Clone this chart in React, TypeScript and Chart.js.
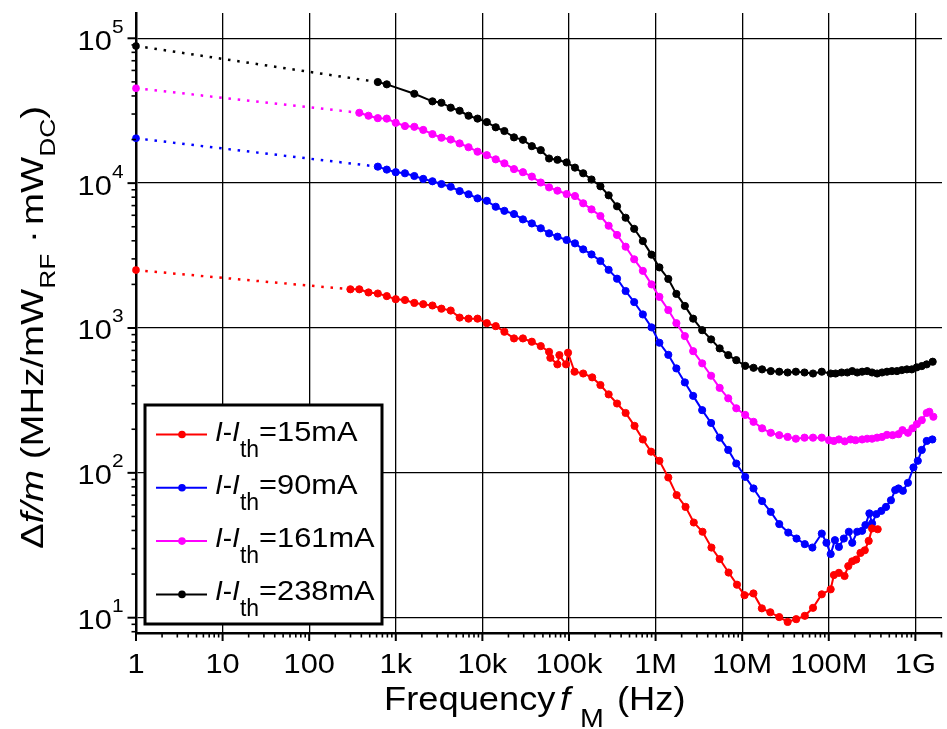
import React, { useEffect, useRef } from "react";
import { Chart, registerables } from "chart.js";

Chart.register(...registerables);

// ---------------- data ----------------
const seriesLabels = ["15mA", "90mA", "161mA", "238mA"];
const seriesColors = ["#ff0000", "#0000ff", "#ff00ff", "#000000"];

// value of the dotted extrapolation at 1 Hz
const extrapFreq = 1;
const extrapStart = [2510, 20400, 45200, 88500];

const xGridValues = [1, 10, 100, 1e3, 1e4, 1e5, 1e6, 1e7, 1e8, 1e9];
const xTickLabels = ["1", "10", "100", "1k", "10k", "100k", "1M", "10M", "100M", "1G"];
const yGridValues = [10, 100, 1e3, 1e4, 1e5];
const yTickExponents = ["1", "2", "3", "4", "5"];
const minorMultipliers = [2, 3, 4, 5, 6, 7, 8, 9];

const redFreq = [299, 379, 484, 620, 787, 998, 1276, 1637, 2075, 2650, 3365, 4305, 5460, 6920, 8790, 11250, 14260, 17950, 23170, 29380, 37240, 47210, 58880, 60950, 73450, 77450, 92470, 97500, 115900, 145900, 185400, 230700, 287100, 358900, 450800, 571500, 712800, 887200, 1.107e6, 1.403e6, 1.75e6, 2.218e6, 2.761e6, 3.483e6, 4.416e6, 5.495e6, 6.966e6, 8.71e6, 1.064e7, 1.349e7, 1.687e7, 2.113e7, 2.679e7, 3.35e7, 4.207e7, 5.284e7, 6.577e7, 8.299e7, 1.052e8, 1.146e8, 1.309e8, 1.521e8, 1.679e8, 1.866e8, 2.075e8, 2.323e8, 2.606e8, 2.891e8, 3.162e8, 3.673e8];
const redVal = [1850, 1850, 1760, 1730, 1660, 1580, 1560, 1490, 1460, 1430, 1360, 1320, 1180, 1160, 1160, 1080, 1030, 942, 847, 847, 804, 750, 685, 622, 561, 650, 561, 675, 499, 485, 456, 404, 348, 301, 259, 211, 170, 140, 121, 92.9, 70.2, 58.2, 45.4, 39.2, 30.5, 25.4, 20.5, 16.9, 14.3, 14.7, 11.6, 10.9, 10.1, 9.35, 9.77, 10.3, 11.7, 14.5, 15.7, 19.7, 20.4, 19.4, 22.7, 24.5, 25.2, 28.0, 29.2, 33.9, 41.3, 40.8];

const blueFreq = [620, 787, 998, 1276, 1637, 2075, 2650, 3365, 4305, 5460, 6920, 8790, 11250, 14260, 17950, 23170, 29380, 37240, 47210, 58880, 73620, 93970, 117200, 145900, 182000, 230700, 287100, 358900, 450800, 566200, 712800, 897500, 1.107e6, 1.403e6, 1.738e6, 2.178e6, 2.716e6, 3.451e6, 4.375e6, 5.495e6, 6.902e6, 8.551e6, 1.084e7, 1.352e7, 1.698e7, 2.138e7, 2.679e7, 3.404e7, 4.246e7, 5.284e7, 6.471e7, 8.299e7, 9.397e7, 1.052e8, 1.178e8, 1.309e8, 1.493e8, 1.706e8, 1.866e8, 2.128e8, 2.427e8, 2.649e8, 2.944e8, 3.162e8, 3.548e8, 4.046e8, 4.581e8, 5.224e8, 5.848e8, 6.383e8, 7.178e8, 8.204e8, 9.506e8, 1.067e9, 1.186e9, 1.352e9, 1.57e9];
const blueVal = [13000, 12400, 11900, 11700, 11200, 10700, 10300, 9860, 9440, 8810, 8380, 7850, 7550, 6870, 6440, 6120, 5620, 5270, 4880, 4500, 4270, 4050, 3840, 3490, 3220, 2900, 2520, 2190, 1800, 1510, 1240, 1010, 791, 653, 526, 421, 340, 271, 221, 175, 144, 116, 93.8, 78.0, 63.8, 53.8, 44.3, 38.7, 35.2, 32.2, 30.5, 38.1, 32.9, 27.5, 34.3, 30.8, 35.2, 39.2, 32.9, 39.2, 39.8, 43.6, 52.5, 44.8, 51.9, 54.6, 58.2, 64.7, 76.0, 78.0, 75.2, 85.3, 109, 121, 144, 166, 170];

const magentaFreq = [379, 484, 620, 787, 998, 1276, 1637, 2075, 2650, 3365, 4305, 5460, 6920, 8790, 11250, 14260, 17950, 23170, 29380, 37240, 47210, 58880, 73620, 93970, 117200, 145900, 182000, 230700, 287100, 358900, 450800, 566200, 712800, 897500, 1.107e6, 1.403e6, 1.738e6, 2.178e6, 2.716e6, 3.451e6, 4.375e6, 5.495e6, 6.902e6, 8.551e6, 1.084e7, 1.352e7, 1.698e7, 2.138e7, 2.679e7, 3.35e7, 4.169e7, 5.248e7, 6.577e7, 8.299e7, 1.005e8, 1.146e8, 1.309e8, 1.531e8, 1.786e8, 2.037e8, 2.427e8, 2.773e8, 3.162e8, 3.614e8, 4.121e8, 4.699e8, 5.458e8, 6.383e8, 7.096e8, 8.204e8, 9.247e8, 1.04e9, 1.186e9, 1.352e9, 1.449e9, 1.614e9];
const magentaVal = [30600, 29200, 28100, 27900, 26100, 24800, 24500, 23300, 21800, 20600, 20000, 18800, 17700, 16500, 15600, 14600, 13700, 12500, 11900, 11100, 10100, 9350, 8870, 8410, 8150, 7260, 6590, 5930, 5080, 4390, 3640, 2980, 2480, 2000, 1640, 1330, 1080, 879, 692, 570, 468, 386, 327, 279, 251, 225, 203, 189, 182, 177, 172, 175, 175, 175, 168, 166, 170, 165, 170, 168, 170, 172, 172, 175, 177, 183, 182, 185, 197, 189, 203, 217, 231, 259, 264, 244];

const blackFreq = [620, 787, 1637, 2650, 3365, 4305, 5460, 6920, 8790, 11250, 14260, 17950, 23170, 29380, 37240, 47210, 58880, 73620, 93970, 117200, 145900, 182000, 230700, 287100, 358900, 450800, 566200, 712800, 897500, 1.107e6, 1.403e6, 1.738e6, 2.178e6, 2.716e6, 3.451e6, 4.375e6, 5.495e6, 6.902e6, 8.551e6, 1.084e7, 1.352e7, 1.698e7, 2.138e7, 2.679e7, 3.35e7, 4.169e7, 5.248e7, 6.577e7, 8.299e7, 1.052e8, 1.199e8, 1.406e8, 1.637e8, 1.866e8, 2.128e8, 2.427e8, 2.773e8, 3.162e8, 3.614e8, 4.121e8, 4.699e8, 5.358e8, 6.124e8, 6.982e8, 7.98e8, 9.099e8, 1.038e9, 1.186e9, 1.352e9, 1.585e9];
const blackVal = [49900, 48100, 41400, 36700, 35900, 33200, 31600, 29200, 27900, 26400, 24300, 22900, 20700, 19900, 18000, 16900, 14800, 14500, 13900, 12800, 11700, 10600, 9510, 8240, 6920, 5770, 4840, 3980, 3210, 2620, 2180, 1720, 1420, 1160, 966, 834, 723, 650, 600, 548, 531, 518, 504, 499, 493, 499, 493, 485, 499, 485, 485, 493, 493, 504, 493, 499, 504, 493, 485, 493, 499, 504, 504, 512, 518, 518, 535, 546, 561, 585];

// ---------------- drawing helpers ----------------
const FONT = '"Liberation Sans", Arial, Helvetica, sans-serif';
const SX = 1.1; // horizontal text stretch seen in the reference

function txt(ctx: CanvasRenderingContext2D, s: string, x: number, y: number, font: string, sx = SX, align = "left") {
  ctx.save();
  ctx.font = font;
  ctx.textAlign = "left";
  ctx.textBaseline = "alphabetic";
  const w = ctx.measureText(s).width * sx;
  let x0 = x;
  if (align === "center") x0 = x - w / 2;
  else if (align === "right") x0 = x - w;
  ctx.translate(x0, y);
  ctx.scale(sx, 1);
  ctx.fillText(s, 0, 0);
  ctx.restore();
  return w;
}

function measure(ctx: CanvasRenderingContext2D, s: string, font: string, sx = SX) {
  ctx.save();
  ctx.font = font;
  const w = ctx.measureText(s).width * sx;
  ctx.restore();
  return w;
}

const decorPlugin = {
  id: "decor",
  afterDraw(chart: any) {
    const ctx: CanvasRenderingContext2D = chart.ctx;
    const xs = chart.scales.x;
    const ys = chart.scales.y;
    const ca = chart.chartArea;
    ctx.save();
    ctx.strokeStyle = "#000";
    ctx.fillStyle = "#000";
    ctx.lineCap = "butt";

    // x ticks (major + minor)
    xGridValues.forEach((d) => {
      [1, ...minorMultipliers].forEach((m) => {
        const v = d * m;
        if (v < xs.min || v > xs.max) return;
        const px = xs.getPixelForValue(v);
        ctx.lineWidth = m === 1 ? 2 : 1.6;
        ctx.beginPath();
        ctx.moveTo(px, ca.bottom);
        ctx.lineTo(px, ca.bottom + (m === 1 ? 8 : 4.5));
        ctx.stroke();
      });
    });
    // y ticks
    [1, ...yGridValues].forEach((d) => {
      [1, ...minorMultipliers].forEach((m) => {
        const v = d * m;
        if (v < ys.min || v > ys.max) return;
        const py = ys.getPixelForValue(v);
        ctx.lineWidth = m === 1 ? 2 : 1.6;
        ctx.beginPath();
        ctx.moveTo(ca.left, py);
        ctx.lineTo(ca.left - (m === 1 ? 8.5 : 4.5), py);
        ctx.stroke();
      });
    });

    // x tick labels
    xGridValues.forEach((v, i) => {
      const px = xs.getPixelForValue(v);
      txt(ctx, xTickLabels[i], px, 673, `28px ${FONT}`, SX, "center");
    });
    // y tick labels 10^n
    yGridValues.forEach((v, i) => {
      const py = ys.getPixelForValue(v);
      const supFont = `19px ${FONT}`;
      const right = ca.left - 12.5;
      const supW = measure(ctx, yTickExponents[i], supFont);
      txt(ctx, yTickExponents[i], right - supW, py - 5.5, supFont);
      txt(ctx, "10", right - supW, py + 11.5, `28px ${FONT}`, SX, "right");
    });

    // x axis title
    txt(ctx, "Frequency", 384, 710, `33px ${FONT}`);
    txt(ctx, "f", 560, 710, `italic 33px ${FONT}`);
    txt(ctx, "M", 580, 727, `26px ${FONT}`);
    txt(ctx, "(Hz)", 617, 710, `33px ${FONT}`);

    // y axis title (rotated, flowing upward)
    const SY = 1.2;
    const yt = [
      { t: "\u0394", f: `32px ${FONT}`, sub: false, gap: 0 },
      { t: "f/m", f: `italic 32px ${FONT}`, sub: false, gap: 0 },
      { t: " (MHz/mW", f: `32px ${FONT}`, sub: false, gap: 0 },
      { t: "RF", f: `22px ${FONT}`, sub: true, gap: 0 },
      { t: " \u00B7", f: `32px ${FONT}`, sub: false, gap: 5 },
      { t: "mW", f: `32px ${FONT}`, sub: false, gap: 0 },
      { t: "DC", f: `22px ${FONT}`, sub: true, gap: 0 },
      { t: ")", f: `32px ${FONT}`, sub: false, gap: 0 },
    ];
    let yy = 549;
    yt.forEach((p) => {
      ctx.save();
      ctx.font = p.f;
      const w = ctx.measureText(p.t).width * SY;
      ctx.translate(p.sub ? 55 : 43, yy);
      ctx.rotate(-Math.PI / 2);
      ctx.scale(SY, 1);
      ctx.textAlign = "left";
      ctx.textBaseline = "alphabetic";
      ctx.fillText(p.t, 0, 0);
      ctx.restore();
      yy -= w + p.gap;
    });

    // legend
    const lx = 145, ly = 405, lw = 237, lh = 219;
    ctx.fillStyle = "#fff";
    ctx.fillRect(lx, ly, lw, lh);
    ctx.lineWidth = 3;
    ctx.strokeStyle = "#000";
    ctx.strokeRect(lx, ly, lw, lh);
    seriesLabels.forEach((lab, i) => {
      const y = ly + 29.5 + i * 53.3;
      const c = seriesColors[i];
      ctx.strokeStyle = c;
      ctx.lineWidth = 2;
      ctx.beginPath();
      ctx.moveTo(lx + 11, y);
      ctx.lineTo(lx + 62, y);
      ctx.stroke();
      ctx.fillStyle = c;
      ctx.beginPath();
      ctx.arc(lx + 37, y, 3.8, 0, Math.PI * 2);
      ctx.fill();
      ctx.fillStyle = "#000";
      let x = lx + 70;
      x += txt(ctx, "I", x, y + 6, `italic 28px ${FONT}`, 1);
      x += txt(ctx, "-", x, y + 6, `28px ${FONT}`, 1);
      x += txt(ctx, "I", x, y + 6, `italic 28px ${FONT}`, 1);
      x += txt(ctx, "th", x, y + 22, `23px ${FONT}`, 1);
      txt(ctx, "=" + lab, x, y + 6, `28px ${FONT}`, SX);
    });
    ctx.restore();
  },
};

export default function App() {
  const ref = useRef<HTMLCanvasElement>(null);
  useEffect(() => {
    document.body.style.margin = "0";
    const series = [
      { freq: redFreq, val: redVal },
      { freq: blueFreq, val: blueVal },
      { freq: magentaFreq, val: magentaVal },
      { freq: blackFreq, val: blackVal },
    ];
    const datasets: any[] = [];
    series.forEach((s, i) => {
      const color = seriesColors[i];
      datasets.push({
        label: "I-Ith=" + seriesLabels[i],
        data: s.freq.map((f, k) => ({ x: f, y: s.val[k] })),
        borderColor: color,
        backgroundColor: color,
        borderWidth: 2,
        pointRadius: 3.6,
        pointBorderWidth: 1,
        pointBackgroundColor: color,
        pointBorderColor: color,
        tension: 0,
        fill: false,
      });
      datasets.push({
        label: "extrapolation " + seriesLabels[i],
        data: [
          { x: extrapFreq, y: extrapStart[i] },
          { x: s.freq[0], y: s.val[0] },
        ],
        borderColor: color,
        backgroundColor: color,
        borderWidth: 2.5,
        borderDash: [2.5, 6.8],
        pointRadius: [3.8, 0],
        pointBorderWidth: 0,
        pointBackgroundColor: color,
        tension: 0,
        fill: false,
        clip: false,
      });
    });

    const chart = new Chart(ref.current as HTMLCanvasElement, {
      type: "line",
      data: { datasets },
      options: {
        responsive: false,
        animation: false,
        devicePixelRatio: 1,
        layout: { padding: { top: 13, right: 0, left: 0, bottom: 0 } },
        plugins: { legend: { display: false }, tooltip: { enabled: false } },
        scales: {
          x: {
            type: "logarithmic",
            min: 1,
            max: 2.03e9,
            afterBuildTicks: (s: any) => {
              s.ticks = xGridValues.map((v) => ({ value: v }));
            },
            afterFit: (s: any) => {
              s.height = 96;
            },
            ticks: { display: false },
            grid: { color: "#000", lineWidth: 1.3, drawTicks: false },
            border: { display: true, color: "#000", width: 2.5 },
          },
          y: {
            type: "logarithmic",
            min: 7.84,
            max: 1.495e5,
            afterBuildTicks: (s: any) => {
              s.ticks = yGridValues.map((v) => ({ value: v }));
            },
            afterFit: (s: any) => {
              s.width = 136;
            },
            ticks: { display: false },
            grid: { color: "#000", lineWidth: 1.3, drawTicks: false },
            border: { display: true, color: "#000", width: 2.5 },
          },
        },
      } as any,
      plugins: [decorPlugin],
    });
    return () => chart.destroy();
  }, []);

  return (
    <div style={{ position: "absolute", left: 0, top: 0, width: 947, height: 729, background: "#fff" }}>
      <canvas ref={ref} width={947} height={729} style={{ display: "block" }} />
    </div>
  );
}
